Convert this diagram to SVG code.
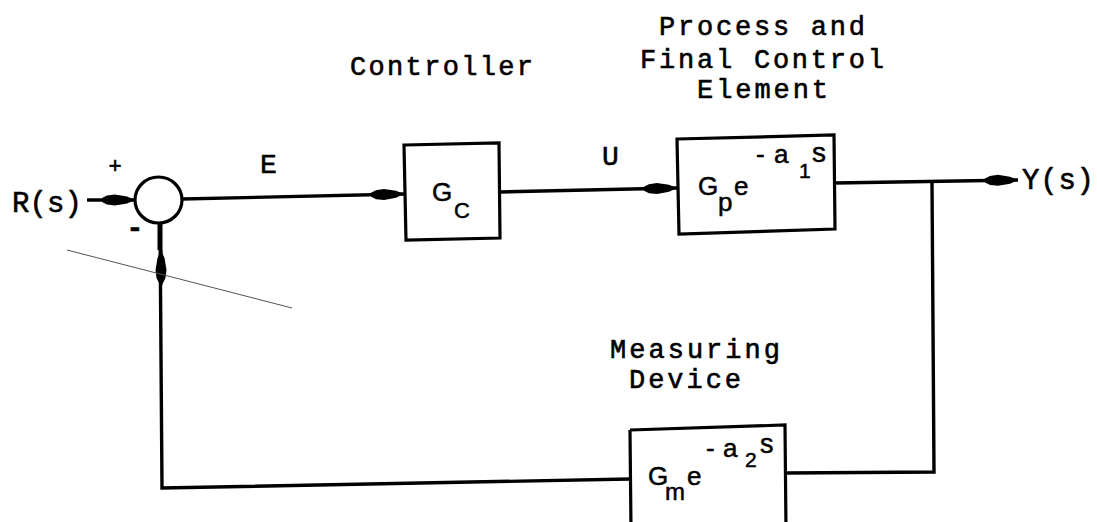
<svg xmlns="http://www.w3.org/2000/svg" width="1097" height="522" viewBox="0 0 1097 522">
<defs>
<style>
.t{font-family:"Liberation Mono","DejaVu Sans Mono",monospace;font-size:27px;fill:#000;stroke:#000;stroke-width:0.6}
.g{font-family:"Liberation Sans","DejaVu Sans",sans-serif;fill:#000;stroke:#000;stroke-width:0.5}
.box{fill:none;stroke:#000;stroke-width:3.2;stroke-linejoin:miter}
.ln{fill:none;stroke:#000;stroke-width:3.4}
</style>
<marker id="arr" viewBox="-36 -7 38 14" refX="0" refY="0" markerWidth="38" markerHeight="14" markerUnits="userSpaceOnUse" orient="auto">
<path d="M0,0 L-8,-3.5 L-20,-5.5 L-28,-4.5 L-33,-2 L-33,2 L-28,4.5 L-20,5.5 L-8,3.5 Z" fill="#000"/>
</marker>
</defs>
<rect width="1097" height="522" fill="#fff"/>

<g id="labels">
<text class="t" x="350" y="75" textLength="183" lengthAdjust="spacing">Controller</text>
<text class="t" x="659" y="35" textLength="206" lengthAdjust="spacing">Process and</text>
<text class="t" x="640" y="68" textLength="244" lengthAdjust="spacing">Final Control</text>
<text class="t" x="697" y="98" textLength="131" lengthAdjust="spacing">Element</text>
<text class="t" x="610" y="358" textLength="170" lengthAdjust="spacing">Measuring</text>
<text class="t" x="629" y="388" textLength="112" lengthAdjust="spacing">Device</text>
<text class="t" x="260" y="173" style="font-size:28px">E</text>
<text class="t" x="602" y="165" style="font-size:28px">U</text>
<text class="t" x="12" y="212" style="font-size:29px" textLength="70" lengthAdjust="spacing">R(s)</text>
<text class="t" x="1022" y="189" style="font-size:29px" textLength="72" lengthAdjust="spacing">Y(s)</text>
<text class="t" x="115" y="173" text-anchor="middle" style="font-size:22px">+</text>
<text class="t" x="135" y="237" text-anchor="middle" style="font-size:28px;font-weight:bold">-</text>
</g>

<g id="sum">
<ellipse cx="158.5" cy="200" rx="23.5" ry="23" fill="none" stroke="#000" stroke-width="3.2"/>
</g>

<g id="controller">
<path class="box" d="M404,145 L499,143 L500,238 L406,240 Z"/>
<text class="g" x="432" y="201" font-size="26">G</text>
<text class="g" x="454" y="218" font-size="22">C</text>
</g>

<g id="process">
<path class="box" d="M677,139 L834,135 L835,229 L679,234 Z"/>
<text class="g" x="698" y="195" font-size="26">G</text>
<text class="g" x="718" y="211" font-size="26">p</text>
<text class="g" x="734" y="195" font-size="26">e</text>
<text class="g" x="756" y="163" font-size="26">-</text>
<text class="g" x="774" y="163" font-size="26">a</text>
<text class="g" x="799" y="178" font-size="21">1</text>
<text class="g" x="812" y="162" font-size="28">s</text>
</g>

<g id="measuring">
<path class="box" d="M630,430 L785,425 L786,530 M631,530 L630,430"/>
<text class="g" x="648" y="485" font-size="26">G</text>
<text class="g" x="665" y="500" font-size="24">m</text>
<text class="g" x="687" y="485" font-size="26">e</text>
<text class="g" x="706" y="457" font-size="26">-</text>
<text class="g" x="723" y="457" font-size="26">a</text>
<text class="g" x="745" y="467" font-size="21">2</text>
<text class="g" x="760" y="453" font-size="27">s</text>
</g>

<g id="connectors">
<path class="ln" d="M87,200 L135,200" marker-end="url(#arr)"/>
<path class="ln" d="M182,199 L404,194" marker-end="url(#arr)"/>
<path class="ln" d="M500,192 L677,188" marker-end="url(#arr)"/>
<path class="ln" d="M835,183 L1018,180" marker-end="url(#arr)"/>
<path class="ln" d="M932,182 L934,472 L786,473"/>
<path class="ln" d="M630,479 L162,488 L160,223"/>
<path class="ln" d="M161,285 L161,250" marker-end="url(#arr)"/>
<path d="M160,250 L160,223" stroke="#000" stroke-width="5"/>
</g>

<line x1="67" y1="250" x2="292" y2="308" stroke="#555" stroke-width="1"/>
</svg>
